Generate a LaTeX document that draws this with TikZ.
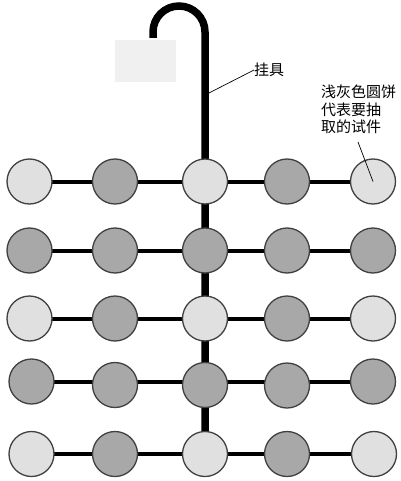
\documentclass[tikz,border=0pt]{standalone}
\usepackage{fontspec}
\newfontfamily\cjk{Noto Sans CJK SC}
\usetikzlibrary{calc,backgrounds}
\definecolor{lightdisk}{HTML}{E0E0E0}
\definecolor{darkdisk}{HTML}{A8A8A8}
\definecolor{diskrim}{HTML}{404040}
\definecolor{tagbox}{HTML}{F0F0F0}
\tikzset{
  disk/.style={circle, draw=diskrim, line width=1.3pt, minimum size=45pt, inner sep=0pt},
  lt/.style={disk, fill=lightdisk},
  dk/.style={disk, fill=darkdisk},
  rod/.style={line width=4pt, black},
  pole/.style={line width=7.5pt, black},
  leader/.style={line width=0.7pt, black},
  lbl/.style={inner sep=0pt, font=\cjk\fontsize{15}{17.5}\selectfont}
}
\begin{document}
\begin{tikzpicture}[x=1pt,y=-1pt]
\useasboundingbox (0,0) rectangle (400,481);
% tag
\fill[tagbox] (115,40) rectangle (176,82);
% row 1
\node[lt] (c11) at (29.5,181.5) {};
\node[dk] (c12) at (115,181.5) {};
\node[lt] (c13) at (205,181.5) {};
\node[dk] (c14) at (287,181.5) {};
\node[lt] (c15) at (373,181.5) {};
% row 2
\node[dk] (c21) at (29.5,250.5) {};
\node[dk] (c22) at (115,250.5) {};
\node[dk] (c23) at (205,250.5) {};
\node[dk] (c24) at (287,250.5) {};
\node[dk] (c25) at (373,250.5) {};
% row 3
\node[lt] (c31) at (29.5,318.5) {};
\node[dk] (c32) at (115,318.5) {};
\node[lt] (c33) at (205,318.5) {};
\node[dk] (c34) at (287,318.5) {};
\node[lt] (c35) at (373,318.5) {};
% row 4
\node[dk] (c41) at (31.5,381.5) {};
\node[dk] (c42) at (115,385) {};
\node[dk] (c43) at (205,385) {};
\node[dk] (c44) at (287,385.5) {};
\node[dk] (c45) at (373,381.5) {};
% row 5
\node[lt] (c51) at (31.5,454) {};
\node[dk] (c52) at (115,454) {};
\node[lt] (c53) at (205,454) {};
\node[dk] (c54) at (287,454) {};
\node[lt] (c55) at (374,454) {};
\begin{scope}[on background layer]
  % horizontal rods
  \foreach \r in {1,...,5}{
    \draw[rod] (c\r1.center) -- (c\r5.center);
  }
  % hook and pole
  \draw[pole] (153,38) -- (153,32) arc[start angle=180, delta angle=-180, radius=26pt] -- (c53.center);
\end{scope}
% labels
\node[lbl, anchor=west] (hanger) at (254,70) {挂具};
\coordinate (hangpt) at (209,93);
\draw[leader] (hangpt) -- (hanger.west);
\node[lbl, anchor=north west, align=left] (note) at (321,85) {浅灰色圆饼\\代表要抽\\取的试件};
\coordinate (notept) at (358,142);
\draw[leader] (notept) -- (c15.center);
\end{tikzpicture}
\end{document}
